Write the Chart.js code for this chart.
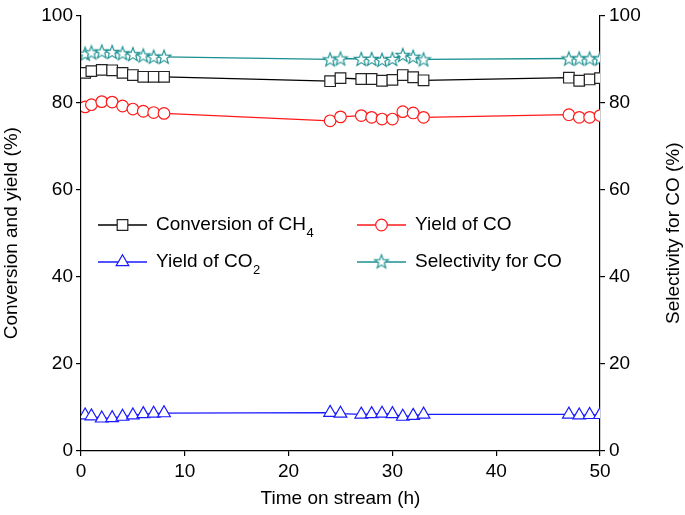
<!DOCTYPE html>
<html><head><meta charset="utf-8">
<script src="https://cdn.jsdelivr.net/npm/chart.js@4.4.0/dist/chart.umd.min.js"></script>
<style>html,body{margin:0;padding:0;background:#fff;}#wrap{width:685px;height:515px;}</style>
</head><body><div id="wrap"><canvas id="c" width="685" height="515"></canvas></div>
<script>
// ---- data ----
const hours = [0.4, 1, 2, 3, 4, 5, 6, 7, 8, 24, 25, 27, 28, 29, 30, 31, 32, 33, 47, 48, 49, 50];
const ch4Conversion = [86.8, 87.2, 87.5, 87.4, 86.8, 86.3, 85.9, 85.9, 85.9, 84.9, 85.6, 85.4, 85.4, 85.0, 85.2, 86.3, 85.8, 85.1, 85.7, 85.0, 85.3, 85.6];
const coYield = [79.0, 79.5, 80.2, 80.1, 79.2, 78.5, 78.0, 77.7, 77.5, 75.8, 76.7, 77.0, 76.6, 76.2, 76.2, 77.9, 77.6, 76.6, 77.2, 76.6, 76.6, 77.0];
const co2Yield = [8.2, 8.0, 7.5, 7.6, 7.9, 8.2, 8.5, 8.6, 8.7, 8.8, 8.6, 8.4, 8.5, 8.6, 8.5, 7.9, 8.1, 8.4, 8.4, 8.2, 8.3, 8.3];
const coSelectivity = [91.2, 91.5, 91.7, 91.6, 91.3, 91.1, 90.8, 90.5, 90.5, 89.9, 90.1, 90.0, 90.0, 89.8, 90.0, 90.9, 90.5, 89.9, 90.1, 90.1, 90.1, 90.1];
const xTicks = [0, 10, 20, 30, 40, 50];
const yTicks = [0, 20, 40, 60, 80, 100];
const legendMain = ['Conversion of CH', 'Yield of CO', 'Yield of CO', 'Selectivity for CO'];
const legendSub = ['4', '', '2', ''];
const rightTitle = 'Selectivity for CO (%)';

const FONT = '"Liberation Sans", Arial, Helvetica, sans-serif';
const font = {family: FONT, size: 19};
const BLACK = '#000000', RED = '#ff1a1a', BLUE = '#1a1aff', TEAL = '#1a8f8f';

function drawStarPath(g, cx, cy, ro, ri) {
  g.beginPath();
  for (let i = 0; i < 10; i++) {
    const r = i % 2 ? ri : ro;
    const a = -Math.PI / 2 + i * Math.PI / 5;
    const x = cx + r * Math.cos(a), y = cy + r * Math.sin(a);
    if (i) g.lineTo(x, y); else g.moveTo(x, y);
  }
  g.closePath();
}
function makeStar(color) {
  const c = document.createElement('canvas');
  const s = 18; c.width = s; c.height = s;
  const g = c.getContext('2d');
  drawStarPath(g, s / 2, s / 2 + 0.6, 7.2, 3.0);
  g.fillStyle = '#fff'; g.fill();
  g.lineWidth = 1.15; g.strokeStyle = color; g.stroke();
  return c;
}
const starImg = makeStar(TEAL);

function pts(vals) { return hours.map((h, i) => ({x: h, y: vals[i]})); }

const legendPlugin = {
  id: 'customLegend',
  afterDatasetsDraw(chart) {
    const ctx = chart.ctx;
    const entries = [
      {x: 98, y: 225, color: BLACK, mark: '#222', type: 'rect'},
      {x: 357, y: 225, color: RED, mark: RED, type: 'circle'},
      {x: 98, y: 262, color: BLUE, mark: BLUE, type: 'triangle'},
      {x: 357, y: 262, color: TEAL, mark: TEAL, type: 'star'}
    ];
    ctx.save();
    entries.forEach((e, i) => {
      ctx.strokeStyle = e.color; ctx.lineWidth = 1.3;
      ctx.beginPath(); ctx.moveTo(e.x, e.y); ctx.lineTo(e.x + 49, e.y); ctx.stroke();
      const cx = e.x + 24.5, cy = e.y;
      ctx.fillStyle = '#fff'; ctx.strokeStyle = e.mark; ctx.lineWidth = 1.2;
      ctx.beginPath();
      if (e.type === 'rect') { ctx.rect(cx - 5.3, cy - 5.3, 10.6, 10.6); ctx.fill(); ctx.stroke(); }
      else if (e.type === 'circle') { ctx.arc(cx, cy, 5.8, 0, Math.PI * 2); ctx.fill(); ctx.stroke(); }
      else if (e.type === 'triangle') {
        const r = 7.3;
        ctx.moveTo(cx, cy - r); ctx.lineTo(cx + r * 0.866, cy + r / 2); ctx.lineTo(cx - r * 0.866, cy + r / 2); ctx.closePath();
        ctx.fill(); ctx.stroke();
      } else { ctx.drawImage(starImg, cx - 9, cy - 9.6); }
      ctx.fillStyle = '#000'; ctx.textBaseline = 'middle'; ctx.textAlign = 'left';
      ctx.font = '19px ' + FONT;
      const tx = e.x + 58;
      ctx.fillText(legendMain[i], tx, cy);
      if (legendSub[i]) {
        const w = ctx.measureText(legendMain[i]).width;
        ctx.font = '13px ' + FONT;
        ctx.fillText(legendSub[i], tx + w + 0.5, cy + 8);
      }
    });
    ctx.restore();
  },
  afterDraw(chart) {
    const ctx = chart.ctx;
    const a = chart.chartArea;
    const s = chart.scales.y1;
    ctx.save();
    ctx.translate(s.right - 11.4, (a.top + a.bottom) / 2);
    ctx.rotate(-Math.PI / 2);
    ctx.font = '19px ' + FONT;
    ctx.fillStyle = '#000'; ctx.textAlign = 'center'; ctx.textBaseline = 'middle';
    ctx.fillText(rightTitle, 0, 0);
    ctx.restore();
  }
};

const axisGrid = {display: true, drawOnChartArea: false, drawTicks: true, tickLength: 5, color: BLACK, lineWidth: 1.2};
const axisBorder = {display: true, color: BLACK, width: 1.2};

new Chart(document.getElementById('c'), {
  type: 'line',
  data: {
    datasets: [
      {label: 'Conversion of CH4', data: pts(ch4Conversion), yAxisID: 'y', borderColor: BLACK, borderWidth: 1.3,
        pointStyle: 'rect', pointRadius: 7.5, pointBorderColor: '#222', pointBackgroundColor: '#fff', pointBorderWidth: 1.2, clip: 0},
      {label: 'Yield of CO', data: pts(coYield), yAxisID: 'y', borderColor: RED, borderWidth: 1.3,
        pointStyle: 'circle', pointRadius: 5.8, pointBorderColor: RED, pointBackgroundColor: '#fff', pointBorderWidth: 1.2, clip: 0},
      {label: 'Yield of CO2', data: pts(co2Yield), yAxisID: 'y', borderColor: BLUE, borderWidth: 1.3,
        pointStyle: 'triangle', pointRadius: 7.3, pointBorderColor: BLUE, pointBackgroundColor: '#fff', pointBorderWidth: 1.2, clip: 0},
      {label: 'Selectivity for CO', data: pts(coSelectivity), yAxisID: 'y1', borderColor: TEAL, borderWidth: 1.3,
        pointStyle: starImg, pointRadius: 7, clip: 0}
    ]
  },
  options: {
    responsive: false, animation: false,
    layout: {padding: {top: 8, left: 0, right: 0, bottom: 0}},
    plugins: {legend: {display: false}, tooltip: {enabled: false}},
    scales: {
      x: {type: 'linear', min: 0, max: 50,
        afterBuildTicks(s) { s.ticks = xTicks.map(v => ({value: v})); },
        ticks: {font, color: BLACK, padding: 4, maxRotation: 0},
        grid: axisGrid, border: axisBorder,
        title: {display: true, text: 'Time on stream (h)', font, color: BLACK, padding: {top: 4, bottom: 5}},
        afterFit(s) { s.height = 64; }},
      y: {position: 'left', min: 0, max: 100,
        afterBuildTicks(s) { s.ticks = yTicks.map(v => ({value: v})); },
        ticks: {font, color: BLACK, padding: 3},
        grid: axisGrid, border: axisBorder,
        title: {display: true, text: 'Conversion and yield (%)', font, color: BLACK, padding: {top: 0.5, bottom: 0}},
        afterFit(s) { s.width = 81; }},
      y1: {position: 'right', min: 0, max: 100,
        afterBuildTicks(s) { s.ticks = yTicks.map(v => ({value: v})); },
        ticks: {font, color: BLACK, padding: 4},
        grid: axisGrid, border: axisBorder,
        title: {display: false},
        afterFit(s) { s.width = 85; }}
    }
  },
  plugins: [legendPlugin]
});
</script>
</body></html>
